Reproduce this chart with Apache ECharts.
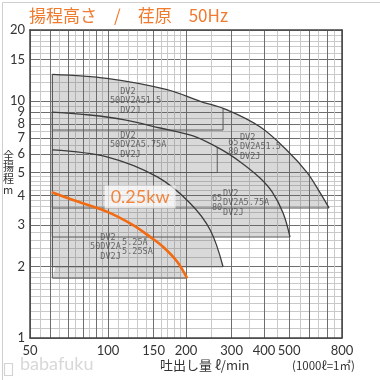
<!DOCTYPE html>
<html><head><meta charset="utf-8">
<script src="https://cdn.jsdelivr.net/npm/echarts@6/dist/echarts.min.js"></script>
<style>html,body{margin:0;padding:0;background:#fff}#c{width:380px;height:380px}</style>
</head><body><div id="c"></div>
<script>
// ---- axis ticks ----
const xMajorTicks = [50,60,70,80,90,100,150,200,300,400,500,600,700,800];
const xMinorTicks = [55,65,75,85,95,110,120,130,140,160,170,180,190,250,350,450,550,650,750];
const xTickLabels = [50,100,150,200,300,400,500,800];
const yMajorTicks = [1,2,3,4,5,6,7,8,9,10,15,20];
const yMinorTicks = [1.1,1.2,1.3,1.4,1.5,1.6,1.7,1.8,1.9,2.2,2.4,2.6,2.8,3.2,3.4,3.6,3.8,4.2,4.4,4.6,4.8,5.5,6.5,7.5,8.5,9.5,11,12,13,14,16,17,18,19];
const yTickLabels = [1,2,3,4,5,6,7,8,9,10,15,20];

// ---- pump curves [flow l/min, head m] ----
const curve15kw  = [[61,13.0],[99,12.5],[169,11.2],[227,10.0],[288,9.2],[386,7.8],[491,6.2],[587,5.0],[659,4.1],[713,3.54]];
const curve075kw = [[61,9.0],[85,8.75],[116,8.34],[159,7.71],[213,7.14],[271,6.29],[324,5.54],[386,4.74],[430,4.14],[474,3.37],[504,2.67]];
const curveMid   = [[61,6.23],[99,5.82],[155,4.79],[207,3.72],[248,2.86],[278,2.0]];
const curve025kw = [[60.7,4.13],[73.3,3.83],[99,3.42],[125,3.0],[145,2.68],[163,2.43],[185,2.10],[202,1.79]];

// ---- operating ranges (shaded) ----
const regionCurveIdx = [0,0,1,1,2,3];
const regionQmin   = [61,61,61,61,61,61];
const regionQmax   = [278,713,264,504,278,202];
const regionHmin   = [7.56,3.54,5.0,2.67,2.0,1.79];
const regionHright = [9.3,3.54,6.4,2.67,2.0,1.79];

// ---- model labels ----
const labelTexts = ['  DV2\n50DV2A51.5\n  DV2J','  DV2\n50DV2A5.75A\n  DV2J','DV2\nDV2A51.5\nDV2J','65\n80','DV2\nDV2A5.75A\nDV2J','65\n80','  DV2\n50DV2A\n  DV2J','5.25A\n5.25SA'];
const labelQ = [101.8,101.8,323,291,278,252,85.3,113.3];
const labelH = [10.03,6.54,6.41,6.38,3.72,3.70,2.42,2.42];

const curves = [curve15kw, curve075kw, curveMid, curve025kw];
const chart = echarts.init(document.getElementById('c'), null, {renderer:'canvas'});
const mono = '"DejaVu Sans Mono", monospace';
const sans = 'Lato, "Noto Sans", sans-serif';

function regionPoints(i) {
  const c = curves[regionCurveIdx[i]];
  const qL = regionQmin[i], qR = regionQmax[i], hB = regionHmin[i];
  const top = c.filter(p => p[0] >= qL && p[0] < qR - 1);
  return {
    poly: [[qL,hB]].concat(top).concat([[qR,regionHright[i]],[qR,hB]]),
    edge: [[qL,top[0][1]],[qL,hB],[qR,hB],[qR,regionHright[i]]]
  };
}

// union of all ranges filled once (nonzero winding)
function fillItem(params, api) {
  const paths = regionQmax.map((q,i) => ({type:'polygon',
    shape:{points: regionPoints(i).poly.map(p => api.coord(p))}}));
  return {type:'compoundPath', shape:{paths:paths}, style:{fill:'rgba(95,95,95,0.24)', stroke:null}};
}
function edgeItem(params, api) {
  const e = regionPoints(params.dataIndex).edge.map(p => api.coord(p));
  return {type:'polyline', shape:{points:e}, style:{fill:null, stroke:'#5a5a5a', lineWidth:1}};
}

const lineSeries = (data, color, width, z) => ({
  type:'line', data:data, smooth:0.35, showSymbol:false, silent:true, z:z,
  lineStyle:{color:color, width:width}, xAxisIndex:0, yAxisIndex:0
});

const option = {
  animation:false,
  backgroundColor:'#fff',
  title:[
    {text:'揚程高さ　/　荏原　50Hz', left:24, top:2,
     textStyle:{color:'#f07a2e', fontSize:17, fontWeight:'normal', fontFamily:'"Noto Sans CJK JP", sans-serif'}},
    {text:'全\n揚\n程\nm', left:-2, top:145,
     textStyle:{color:'#333', fontSize:11, lineHeight:11.5, fontWeight:'normal', fontFamily:'"Noto Sans CJK JP", sans-serif'}}
  ],
  grid:{left:30, top:30, right:38, bottom:42, outerBoundsMode:'none', containLabel:false},
  xAxis:[
    {type:'log', logBase:10, min:50, max:800, gridIndex:0,
     axisLine:{show:true, onZero:false, lineStyle:{color:'#444', width:1.5}},
     axisTick:{show:false, customValues:xMajorTicks},
     axisLabel:{customValues:xTickLabels, color:'#333', fontSize:13, fontFamily:sans, margin:6,
       formatter:v => String(Math.round(v))},
     splitLine:{show:true, lineStyle:{color:'#6e6e6e', width:1}}},
    {type:'log', logBase:10, min:50, max:800, gridIndex:0, position:'top',
     axisLine:{show:true, onZero:false, lineStyle:{color:'#444', width:1.5}},
     axisTick:{show:false, customValues:xMinorTicks},
     axisLabel:{show:false},
     splitLine:{show:true, lineStyle:{color:'#c9c9c9', width:1}}}
  ],
  yAxis:[
    {type:'log', logBase:10, min:1, max:20, gridIndex:0,
     axisLine:{show:true, onZero:false, lineStyle:{color:'#444', width:1.5}},
     axisTick:{show:false, customValues:yMajorTicks},
     axisLabel:{customValues:yTickLabels, color:'#333', fontSize:13, fontFamily:sans, margin:5,
       formatter:v => String(Math.round(v))},
     splitLine:{show:true, lineStyle:{color:'#6e6e6e', width:1}}},
    {type:'log', logBase:10, min:1, max:20, gridIndex:0, position:'right',
     axisLine:{show:true, onZero:false, lineStyle:{color:'#444', width:1.5}},
     axisTick:{show:false, customValues:yMinorTicks},
     axisLabel:{show:false},
     splitLine:{show:true, lineStyle:{color:'#c9c9c9', width:1}}}
  ],
  series:[
    {type:'custom', renderItem:fillItem, xAxisIndex:0, yAxisIndex:0, silent:true, z:2,
     data:[[100,5]]},
    {type:'custom', renderItem:edgeItem, xAxisIndex:0, yAxisIndex:0, silent:true, z:2,
     data:regionQmax.map((q,i) => [q, regionHmin[i]])},
    lineSeries(curve15kw, '#3c3c3c', 1.3, 3),
    lineSeries(curve075kw, '#3c3c3c', 1.3, 3),
    lineSeries(curveMid, '#3c3c3c', 1.3, 3),
    {type:'scatter', symbolSize:0, silent:true, z:4, xAxisIndex:0, yAxisIndex:0,
     data:labelQ.map((q,i) => ({value:[q, labelH[i]], label:{show:true, position:'inside', formatter:labelTexts[i],
        color:'#4a4a4a', fontSize:8.5, fontFamily:mono, lineHeight:9.5, align:'left', verticalAlign:'middle'}}))},
    lineSeries(curve025kw, '#f26a12', 2.6, 6),
    {type:'scatter', symbolSize:0, silent:true, z:7, xAxisIndex:0, yAxisIndex:0,
     data:[{value:[133,3.94], label:{show:true, position:'inside', formatter:'0.25kw', color:'#f26a12',
        fontSize:18, fontFamily:sans, backgroundColor:'rgba(255,255,255,0.88)', padding:[3,6,2,6]}}]}
  ],
  graphic:[
    {type:'rect', left:0, top:0, shape:{width:379, height:379}, style:{fill:null, stroke:'#cfcfcf', lineWidth:1}, silent:true},
    {type:'text', left:160, top:359, style:{text:'吐出し量 ℓ/min', font:'13px "Noto Sans CJK JP"', fill:'#333'}},
    {type:'text', left:292, top:360, style:{text:'(1000ℓ=1㎥)', font:'11.5px "Noto Sans CJK JP"', fill:'#333'}},
    {type:'rect', left:2, top:361, shape:{width:8, height:12}, style:{fill:null, stroke:'#d4d4d4', lineWidth:1.2}},
    {type:'text', left:20, top:355, style:{text:'babafuku', font:'18px Lato', fill:'#d8d8d8'}}
  ]
};
chart.setOption(option);
</script></body></html>
